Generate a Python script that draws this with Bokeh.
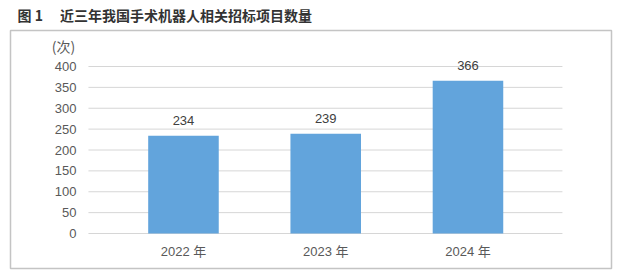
from bokeh.plotting import figure
from bokeh.models import Range1d, ColumnDataSource
from bokeh.core.properties import value
from bokeh.embed import file_html
from bokeh.resources import INLINE

years = ["2022 年", "2023 年", "2024 年"]
counts = [234, 239, 366]
y_ticks = [0, 50, 100, 150, 200, 250, 300, 350, 400]
title_text = "图\u00a01\u3000\u00a0近三年我国手术机器人相关招标项目数量"
unit_text = "(次)"

FONT = "'Liberation Sans', Arial, 'Noto Sans CJK SC'"
CJK = "'Noto Sans CJK SC'"

xs = list(range(len(years)))
bars = ColumnDataSource(dict(x=xs, top=counts, lab=[str(c) for c in counts], cat=years,
                             base=[0] * len(xs)))
ticks = ColumnDataSource(dict(y=y_ticks, lab=[str(t) for t in y_ticks]))

# plotting area spans grid from X0 to X1 (data units)
X0, X1 = -0.668, 2.664
XMIN, XMAX = -1.216, 3.009
YMIN, YMAX = -83.8, 486.2

p = figure(width=640, height=279, output_backend="svg", toolbar_location=None,
           title=title_text,
           x_range=Range1d(XMIN, XMAX), y_range=Range1d(YMIN, YMAX),
           x_axis_location=None, y_axis_location=None,
           min_border_left=10, min_border_right=29, min_border_top=30, min_border_bottom=11)
p.title.text_font = CJK
p.title.text_font_size = "14px"
p.title.text_font_style = "bold"
p.title.text_color = "#333333"
p.title.align = "left"
p.title.offset = 7
p.title.standoff = 8
p.title.vertical_align = "top"

p.outline_line_color = "#c4c4c4"
p.outline_line_width = 1.5
p.background_fill_color = "white"
p.border_fill_color = "white"
p.xgrid.visible = False
p.ygrid.visible = False

# horizontal grid lines at the y ticks
p.segment(x0=X0, x1=X1, y0="y", y1="y", source=ticks, line_color="#d6d6d6", line_width=1)

p.vbar(x="x", top="top", width=0.496, source=bars, color="#62a4dc", line_color=None)

# value labels
p.text(x="x", y="top", text="lab", source=bars, text_align="center", text_baseline="middle",
       y_offset=-15, text_font_size="13px", text_color="#404040", text_font=value(FONT))

# y tick labels
p.text(x=X0, y="y", text="lab", source=ticks, text_align="right", text_baseline="middle",
       x_offset=-12, text_font_size="13px", text_color="#595959", text_font=value(FONT))

# category labels
p.text(x="x", y="base", text="cat", source=bars, text_align="center", text_baseline="middle",
       y_offset=18, text_font_size="13px", text_color="#595959", text_font=value(FONT))

# unit label
p.text(x=[X0], y=[y_ticks[-1]], text=[unit_text], text_align="center", text_baseline="middle",
       x_offset=-25, y_offset=-20, text_font_size="14px", text_color="#595959",
       text_font=value(CJK))

open("out.html", "w").write(file_html(p, INLINE))
